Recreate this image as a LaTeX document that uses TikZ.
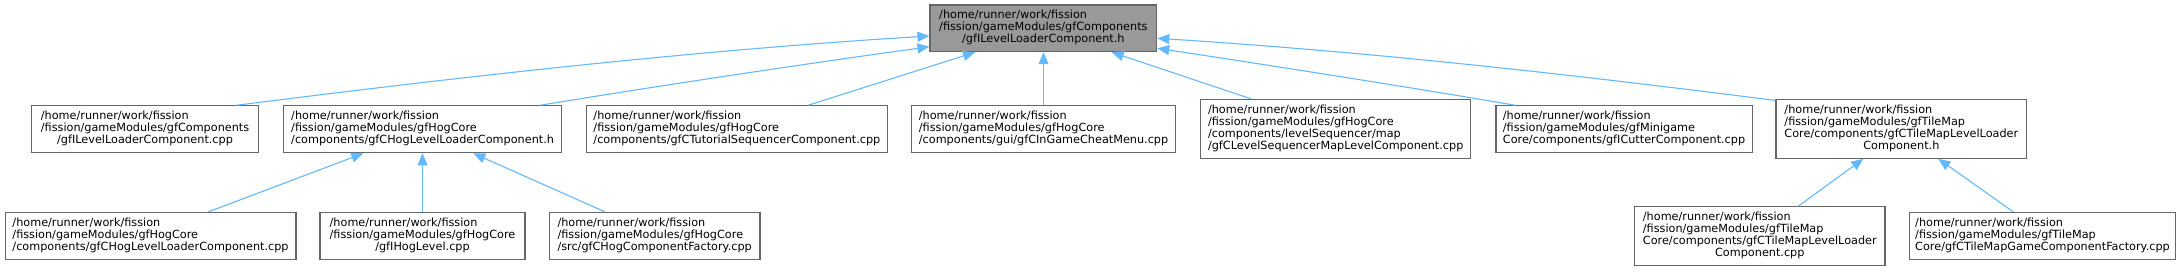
\documentclass[tikz,border=0pt]{standalone}
\usepackage{fontspec}
\setmainfont{DejaVu Sans}
\usetikzlibrary{arrows.meta}
\definecolor{edgeblue}{HTML}{63B8FF}
\definecolor{boxborder}{HTML}{666666}
\definecolor{rootfill}{HTML}{999999}
\newcommand{\lbl}[2]{\begin{tabular}{@{}l@{}}#1\\\multicolumn{1}{@{}c@{}}{#2}\end{tabular}}
\tikzset{
  filebox/.style={draw=boxborder, fill=white, line width=1.1pt, inner sep=0pt,
    font=\fontsize{11.25}{11.7}\selectfont, align=center},
  rootbox/.style={filebox, fill=rootfill},
  dep/.style={draw=edgeblue, line width=1.1pt, -{Triangle[length=12pt,width=10pt]}}
}
\begin{document}
\begin{tikzpicture}[x=1pt,y=1pt]
\useasboundingbox (0,0) rectangle (2181,271);
% root
\node[rootbox, minimum width=226.7pt, minimum height=46.7pt] (R) at (1043.35,242.65)
  {\lbl{/home/runner/work/fission\\/fission/gameModules/gfComponents}{/gfILevelLoaderComponent.h}};
% middle row
\node[filebox, minimum width=226.7pt, minimum height=47pt] (A) at (145.05,141.7)
  {\lbl{/home/runner/work/fission\\/fission/gameModules/gfComponents}{/gfILevelLoaderComponent.cpp}};
\node[filebox, minimum width=278.6pt, minimum height=47pt] (B) at (422.6,141.7)
  {\lbl{/home/runner/work/fission\\/fission/gameModules/gfHogCore}{/components/gfCHogLevelLoaderComponent.h}};
\node[filebox, minimum width=301.4pt, minimum height=47pt] (C) at (736.9,141.7)
  {\lbl{/home/runner/work/fission\\/fission/gameModules/gfHogCore}{/components/gfCTutorialSequencerComponent.cpp}};
\node[filebox, minimum width=263.7pt, minimum height=47pt] (G) at (1043.55,141.7)
  {\lbl{/home/runner/work/fission\\/fission/gameModules/gfHogCore}{/components/gui/gfCInGameCheatMenu.cpp}};
\node[filebox, minimum width=270pt, minimum height=59pt] (H) at (1335.7,142.2)
  {\lbl{/home/runner/work/fission\\/fission/gameModules/gfHogCore\\/components/levelSequencer/map}{/gfCLevelSequencerMapLevelComponent.cpp}};
\node[filebox, minimum width=256.1pt, minimum height=47pt] (I) at (1624.05,141.7)
  {\lbl{/home/runner/work/fission\\/fission/gameModules/gfMinigame}{Core/components/gfICutterComponent.cpp}};
\node[filebox, minimum width=250.7pt, minimum height=59pt] (J) at (1901.35,142.2)
  {\lbl{/home/runner/work/fission\\/fission/gameModules/gfTileMap\\Core/components/gfCTileMapLevelLoader}{Component.h}};
% bottom row
\node[filebox, minimum width=290.9pt, minimum height=47pt] (D) at (150.55,35.1)
  {\lbl{/home/runner/work/fission\\/fission/gameModules/gfHogCore}{/components/gfCHogLevelLoaderComponent.cpp}};
\node[filebox, minimum width=205pt, minimum height=47pt] (E) at (422.5,35.1)
  {\lbl{/home/runner/work/fission\\/fission/gameModules/gfHogCore}{/gfIHogLevel.cpp}};
\node[filebox, minimum width=210.7pt, minimum height=47pt] (F) at (654.65,35.1)
  {\lbl{/home/runner/work/fission\\/fission/gameModules/gfHogCore}{/src/gfCHogComponentFactory.cpp}};
\node[filebox, minimum width=250.4pt, minimum height=58.6pt] (K) at (1759.8,35)
  {\lbl{/home/runner/work/fission\\/fission/gameModules/gfTileMap\\Core/components/gfCTileMapLevelLoader}{Component.cpp}};
\node[filebox, minimum width=266.4pt, minimum height=47pt] (L) at (2042.5,35.1)
  {\lbl{/home/runner/work/fission\\/fission/gameModules/gfTileMap}{Core/gfCTileMapGameComponentFactory.cpp}};
% edges to root
\draw[dep] ([xshift=91.65pt]A.north) .. controls (466.7,195) and (700,221) .. ([yshift=-7.65pt]R.west);
\draw[dep] ([xshift=117.7pt]B.north) .. controls (670,187) and (800,206.3) .. ([yshift=-18.35pt]R.west);
\draw[dep] ([xshift=71.2pt]C.north) -- ([xshift=-68.35pt]R.south);
\draw[dep] (G.north) -- (G.north |- R.south);
\draw[dep] ([xshift=-84.9pt]H.north) -- ([xshift=68.35pt]R.south);
\draw[dep] ([xshift=-109.05pt]I.north) .. controls (1415,183) and (1256.7,207.7) .. ([yshift=-19.95pt]R.east);
\draw[dep] ([yshift=-1.7pt]J.north west) .. controls (1575,196) and (1376.7,218.7) .. ([yshift=-9.95pt]R.east);
% edges to B
\draw[dep] ([xshift=57.75pt]D.north) -- ([xshift=-59.3pt]B.south);
\draw[dep] (E.north) -- (E.north |- B.south);
\draw[dep] ([xshift=-49.65pt]F.north) -- ([xshift=50.7pt]B.south);
% edges to J
\draw[dep] ([xshift=38.5pt]K.north) -- ([xshift=-38.05pt]J.south);
\draw[dep] ([xshift=-29.2pt]L.north) -- ([xshift=36.95pt]J.south);
\end{tikzpicture}
\end{document}
